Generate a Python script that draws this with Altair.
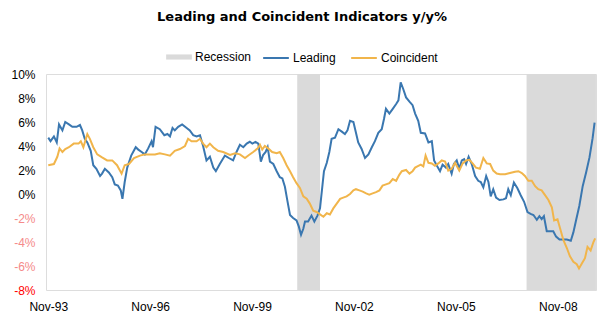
import altair as alt
import pandas as pd

# ---- data ----
BASE = "1993-11-01"   # month offsets below are counted from Nov-93

lead_months = [0, 0.8, 2, 3, 3.8, 5, 6, 7.3, 8.5, 10, 11.2, 12, 12.9, 13.8, 15, 15.9, 17, 18.3, 19, 20,
               21.4, 22.6, 23.5, 24.6, 25.6, 26.2, 27, 27.9, 29.3, 30.9,
               31.8, 33, 34.1, 35.3, 36.5, 37, 37.9, 39.4, 41, 42.1, 43, 43.9, 44.7, 45.9, 47.3, 48.9, 50,
               51.2, 52.4, 53.6, 54.7, 55.9, 57.1, 58.3, 59.2, 60.6, 62.4,
               63.8, 65.3, 66.5, 67.7, 68.9, 70.1, 71.2, 72.1, 73.2, 74.2, 75.1, 75.9, 76.8, 77.5, 78.3,
               79.5, 80.7, 81.8, 82.7, 83.6, 84.5, 85.4, 86.5, 87.7, 88.5, 89.3, 90.1, 90.7, 91.8, 93, 94,
               95.1, 96,
               96.9, 97.4, 98.4, 99.3, 100.1, 101.3, 102.5, 103.7, 104.8, 105.7, 106.6, 107.8, 108.7, 109.5,
               110.7, 111.9, 113.1, 114.3, 115.4, 116.6, 117.8, 118.6, 119.3, 120.5, 121.7, 122.9, 123.7,
               124.5, 125.4, 126.4, 127.6, 128.7, 129.6,
               130.7, 131.6, 133.1, 134.3, 135.5, 136.3, 137.2, 138.4, 139.3, 140.5, 141.3, 141.9, 142.5,
               143.3, 144.3, 145.2, 146.1, 146.9, 147.6, 148.5, 149.6, 150.8, 151.9, 152.8, 153.7, 154.7,
               155.5, 156.3, 157.2, 158.2, 159.4,
               160.8, 161.7, 162.5, 163.4, 164.5, 165.7, 166.9, 168.1, 169.3, 170.4, 171.4, 172.6, 173.5,
               174.3, 175.1, 176.1, 177.3, 178.4, 179.4, 180.6, 182, 183.2, 184.6, 185.5, 186.5, 187.6,
               188.8, 190, 191.2, 192.3, 193]
lead_values = [4.7, 4.4, 4.8, 4.3, 5.8, 5.3, 6.0, 5.8, 5.6, 5.6, 5.75, 5.3, 4.6, 4.3, 3.6, 2.4, 2.1, 1.5, 1.7, 2.1,
               1.8, 1.4, 0.8, 0.7, 0.3, -0.4, 1.0, 2.2, 3.2, 3.9,
               3.7, 3.5, 3.3, 3.8, 4.4, 3.9, 5.6, 5.4, 4.9, 5.0, 4.8, 5.5, 5.3, 5.6, 5.8, 5.5, 5.3,
               4.9, 4.8, 4.9, 4.0, 2.8, 3.1, 2.2, 1.9, 2.5, 3.2,
               3.0, 2.8, 3.5, 4.1, 3.9, 4.2, 4.35, 4.2, 4.35, 4.2, 2.7, 3.25, 3.5, 3.9, 2.7,
               2.5, 1.9, 1.4, 1.3, 0.6, -0.6, -1.75, -2.0, -2.2, -2.7, -3.4, -2.9, -2.3, -2.3, -1.8, -2.3,
               -1.8, -1.2,
               0.8, 1.9, 2.6, 3.5, 4.6, 4.7, 5.4, 5.2, 5.0, 5.3, 6.1, 6.0, 5.1, 4.3,
               3.75, 3.0, 3.3, 3.9, 4.4, 5.1, 5.4, 6.25, 7.1, 6.7, 7.1, 7.5, 7.8,
               9.3, 8.75, 8.05, 7.7, 7.4, 6.7,
               6.1, 5.1, 5.05, 4.3, 4.4, 2.8, 2.4, 1.9, 2.45, 2.2, 2.5, 2.1, 1.7,
               2.5, 2.8, 2.1, 2.8, 2.9, 2.5, 3.1, 2.5, 1.5, 1.1, 1.0, 0.55, 1.5,
               1.0, -0.2, 0.4, -0.3, -0.5,
               -0.45, -0.35, 0.4, -0.1, 0.95, 0.5, -0.1, -0.65, -1.5, -1.65, -1.75, -2.15, -1.85,
               -2.1, -1.85, -3.1, -3.1, -3.1, -3.55, -3.8, -3.8, -3.8, -3.9, -3.2, -2.15, -1.0,
               0.65, 1.8, 3.05, 4.65, 5.95]

coin_months = [0, 2, 3.2, 4, 5, 6, 7.3, 9, 10.7, 11.5, 12.4, 13.8, 14.7, 15.9, 17.3, 19, 20.8, 22.6, 24.3,
               25.9, 27, 28.5, 30.3,
               32.4, 34.1, 35.9, 37.7, 39.4, 41.2, 43, 44.7, 46.5, 48.3, 49.4, 50.6, 52.4, 53.6, 54.7,
               55.9, 57.1, 58.3, 60, 61.8,
               64.2, 66, 67.7, 69.5, 70.9, 72.4, 74, 74.8, 75.6, 76.5, 77.7, 79.1, 80.7, 81.8, 83, 84.2,
               85.4, 86.5, 87.7, 88.9, 90.1, 91.3, 92.4, 93.6, 94.8, 96,
               97.2, 98.4, 99.5, 100.7, 101.9, 103.1, 104.2, 105.4, 106.6, 107.8, 108.7, 109.9, 111.1,
               112.3, 113.4, 114.6, 115.8, 117, 118.1, 119.3, 120.5, 121.7, 122.9, 124, 124.9, 126.4,
               127.6, 128.7,
               129.6, 130.4, 131.6, 132.5, 133.3, 134.3, 135.5, 136.6, 137.8, 139, 140.2, 141.3, 142.5,
               143.7, 145.2, 146.4, 147.6, 148.8, 149.9, 151.1, 152.5, 153.7, 154.9, 156.1, 157.2, 158.4,
               159.6,
               161.4, 163.1, 164.9, 166.1, 167.3, 168.4, 169.6, 170.8, 172, 173.1, 174.3, 175.5, 176.7,
               177.9, 178.7, 179.9, 180.8, 182, 183.2, 184.3, 185.5, 186.7, 187.5, 188.5, 189.6, 190.5,
               191.6, 192.6, 193.2]
coin_values = [2.4, 2.5, 3.1, 3.8, 3.5, 3.75, 3.9, 4.2, 4.2, 4.4, 3.9, 5.0, 4.6, 3.9, 3.3, 3.05, 2.8, 2.8, 2.4,
               1.7, 2.4, 2.5, 3.0,
               3.2, 3.3, 3.3, 3.3, 3.4, 3.3, 3.2, 3.6, 3.75, 4.0, 4.6, 4.4, 4.4, 4.6, 4.2,
               3.9, 4.2, 3.9, 3.6, 3.5,
               3.25, 3.4, 3.3, 3.0, 3.25, 3.5, 3.8, 4.1, 3.7, 4.0, 3.8, 3.5, 3.4, 3.5, 3.0, 2.4,
               1.9, 1.4, 0.9, 0.5, -0.2, -0.4, -0.8, -1.4, -1.5, -1.7,
               -1.9, -1.6, -1.7, -1.2, -0.8, -0.4, -0.3, -0.2, 0.0, 0.3, 0.4, 0.3, 0.2,
               0.05, -0.05, 0.05, 0.15, 0.3, 0.7, 0.8, 0.9, 1.25, 1.1, 1.6, 1.9, 2.0,
               1.7, 1.9,
               2.2, 2.3, 2.45, 2.3, 3.2, 2.6, 2.55, 2.35, 2.55, 2.8, 2.7, 1.95, 2.1,
               2.6, 1.95, 2.55, 2.8, 2.85, 2.55, 2.2, 2.1, 3.0, 2.55, 2.5, 1.95, 1.7,
               1.65,
               1.65, 1.75, 1.85, 1.9, 1.75, 1.5, 1.1, 1.1, 0.65, 0.4, 0.3, -0.1, -0.5,
               -1.1, -2.2, -2.1, -2.85, -3.85, -4.5, -5.2, -5.65, -5.85, -6.2, -5.8, -5.35, -4.4,
               -4.7, -4.0, -3.7]

rec_start = ["2001-03-01", "2007-12-01"]
rec_end = ["2001-11-01", "2009-12-16"]

rec_name = ["Recession"]
rec_color = ["#dadada"]
line_names = ["Leading", "Coincident"]
line_colors = ["#3a77b0", "#f1b54b"]

y_ticks = [-8, -6, -4, -2, 0, 2, 4, 6, 8, 10]
x_tick_years = [1993, 1996, 1999, 2002, 2005, 2008]

# ---- tables ----
base = pd.Timestamp(BASE)


def month_to_date(m):
    return (base + pd.to_timedelta(m * 30.4375, unit="D")).strftime("%Y-%m-%dT%H:%M:%S")


lines_df = pd.concat([
    pd.DataFrame({"date": [month_to_date(m) for m in lead_months], "value": lead_values,
                  "series": "Leading"}),
    pd.DataFrame({"date": [month_to_date(m) for m in coin_months], "value": coin_values,
                  "series": "Coincident"}),
])
rec_df = pd.DataFrame({"start": rec_start, "end": rec_end, "series": "Recession"})

FONT = "Liberation Sans"
REC_PATH = "M-1,-0.2L1,-0.2L1,0.2L-1,0.2Z"

rec_legend = alt.Legend(
    title=None, orient="none", direction="horizontal", legendX=120, legendY=-30,
    symbolType=REC_PATH, symbolSize=660, symbolStrokeWidth=0, symbolOpacity=1,
    labelFont=FONT, labelFontSize=12, labelColor="#000000", labelOffset=3, padding=0,
)
line_legend = alt.Legend(
    title=None, orient="none", direction="horizontal", legendX=216, legendY=-30,
    symbolType="stroke", symbolSize=660, symbolStrokeWidth=2, symbolOpacity=1,
    labelFont=FONT, labelFontSize=12, labelColor="#000000", labelOffset=3,
    columnPadding=11, padding=0,
)

x_scale = alt.Scale(domain=[month_to_date(-0.8), month_to_date(193.5)])
y_scale = alt.Scale(domain=[-8, 10], nice=False)

x_axis = alt.Axis(
    values=[alt.DateTime(year=y, month=11, date=1) for y in x_tick_years],
    format="%b-%y", title=None, grid=False, domain=False, ticks=False,
    labelFont=FONT, labelFontSize=12, labelColor="#000000", labelPadding=11,
)
y_axis = alt.Axis(
    values=y_ticks, labelExpr="datum.value + '%'", title=None, domain=False, ticks=False,
    labelFont=FONT, labelFontSize=12, labelPadding=11,
    labelColor={"condition": [{"test": "datum.value <= -8", "value": "#ff0000"},
                              {"test": "datum.value < 0", "value": "#f58a8a"}],
                "value": "#000000"},
    gridColor={"condition": {"test": "datum.value === 0", "value": "#a8a8a8"}, "value": "#bdb6ae"},
    gridDash={"condition": {"test": "datum.value === 0", "value": []}, "value": [3, 2]},
    gridWidth=1,
)

rec = alt.Chart(rec_df).mark_rect(opacity=1).encode(
    x=alt.X("start:T", scale=x_scale, axis=x_axis),
    x2="end:T",
    y=alt.datum(-8, scale=y_scale, axis=y_axis),
    y2=alt.datum(10),
    fill=alt.Fill("series:N", scale=alt.Scale(domain=rec_name, range=rec_color), legend=rec_legend),
)

lines = alt.Chart(lines_df).mark_line(strokeWidth=2).encode(
    x=alt.X("date:T", scale=x_scale, axis=x_axis),
    y=alt.Y("value:Q", scale=y_scale, axis=y_axis),
    stroke=alt.Stroke("series:N", scale=alt.Scale(domain=line_names, range=line_colors),
                      legend=line_legend),
)

chart = alt.layer(rec, lines).properties(
    width=550, height=216,
    autosize=alt.AutoSizeParams(type="none"),
    padding={"left": 46, "top": 74, "right": 9, "bottom": 31},
    title=alt.TitleParams(
        "Leading and Coincident Indicators y/y%", font="DejaVu Sans", fontSize=13,
        fontWeight="bold", color="#000000", anchor="middle", dx=-19, offset=20,
    ),
).configure_view(stroke=None).configure(background="#ffffff")

chart.save("out.html", embed_options={"renderer": "svg", "actions": False})
